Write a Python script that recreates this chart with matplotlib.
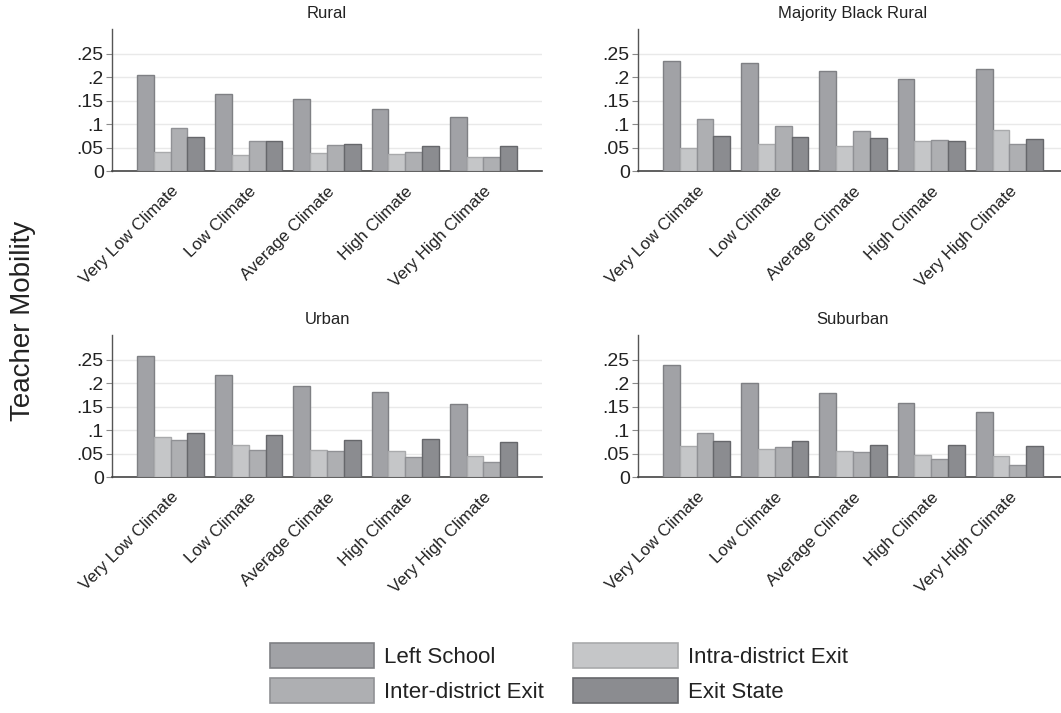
import matplotlib
matplotlib.use("Agg")
import matplotlib.pyplot as plt
from matplotlib.patches import Patch
from matplotlib.transforms import ScaledTranslation
import numpy as np

plt.rcParams['font.family'] = ['Liberation Sans', 'DejaVu Sans']

climates = ["Very Low Climate", "Low Climate", "Average Climate",
            "High Climate", "Very High Climate"]
series = ["Left School", "Intra-district Exit", "Inter-district Exit", "Exit State"]
panels = ["Rural", "Majority Black Rural", "Urban", "Suburban"]

# rows: climate level; columns follow `series`
rural = [[0.204, 0.041, 0.091, 0.072],
         [0.164, 0.035, 0.065, 0.063],
         [0.154, 0.039, 0.055, 0.058],
         [0.132, 0.037, 0.041, 0.054],
         [0.116, 0.030, 0.030, 0.054]]
black_rural = [[0.234, 0.050, 0.110, 0.075],
               [0.230, 0.058, 0.097, 0.073],
               [0.213, 0.054, 0.086, 0.071],
               [0.196, 0.064, 0.067, 0.063],
               [0.217, 0.087, 0.058, 0.069]]
urban = [[0.259, 0.085, 0.079, 0.093],
         [0.218, 0.068, 0.058, 0.090],
         [0.194, 0.058, 0.056, 0.079],
         [0.182, 0.055, 0.043, 0.082],
         [0.156, 0.045, 0.033, 0.075]]
suburban = [[0.239, 0.066, 0.094, 0.077],
            [0.201, 0.059, 0.064, 0.076],
            [0.180, 0.056, 0.054, 0.068],
            [0.158, 0.047, 0.039, 0.068],
            [0.139, 0.045, 0.025, 0.067]]
panel_data = [rural, black_rural, urban, suburban]

fills = ["#a1a2a6", "#c5c6c8", "#aeafb2", "#8b8c90"]
edges = ["#7f8084", "#a9aaac", "#909195", "#66676b"]

yticks = [0, 0.05, 0.1, 0.15, 0.2, 0.25]
ytick_labels = ["0", ".05", ".1", ".15", ".2", ".25"]

W, H = 1061, 713
fig = plt.figure(figsize=(W / 100, H / 100), dpi=100)

# pixel boxes: left, right, top, zero line
boxes = [(112, 542, 29, 171), (638, 1068, 29, 171),
         (112, 542, 335, 477), (638, 1068, 335, 477)]

bw = 0.215
x = np.arange(len(climates))
text_col = "#222222"
shift = ScaledTranslation(-4 / 100, 0, fig.dpi_scale_trans)

for name, vals, (l, r, t, b) in zip(panels, panel_data, boxes):
    ax = fig.add_axes([l / W, 1 - b / H, (r - l) / W, (b - t) / H])
    vals = np.array(vals)
    for j in range(len(series)):
        ax.bar(x + (j - 1.5) * bw, vals[:, j], width=bw,
               color=fills[j], edgecolor=edges[j], linewidth=1.0, zorder=3)
    ax.set_xlim(-0.75, 4.75)
    ax.set_ylim(0, 0.303)
    ax.set_yticks(yticks)
    ax.set_yticklabels(ytick_labels)
    ax.yaxis.grid(True, color="#e9e9e9", linewidth=1.0, zorder=0)
    ax.set_axisbelow(True)
    ax.tick_params(axis="y", length=4, width=0.8, color="#8a8a8a",
                   labelsize=14, labelcolor=text_col, pad=2)
    ax.set_xticks(x)
    ax.set_xticklabels(climates, rotation=45, ha="right", va="top",
                       rotation_mode="anchor", fontsize=12.2, color=text_col)
    for lab in ax.get_xticklabels():
        lab.set_transform(lab.get_transform() + shift)
    ax.tick_params(axis="x", length=0, pad=9)
    for s in ["top", "right"]:
        ax.spines[s].set_visible(False)
    ax.spines["left"].set_color("#555555")
    ax.spines["bottom"].set_color("#444444")
    ax.spines["left"].set_linewidth(1.0)
    ax.spines["bottom"].set_linewidth(1.2)
    ax.set_title(name, fontsize=12, color=text_col, pad=8)

fig.text(23 / W, 1 - 321 / H, "Teacher Mobility", rotation=90,
         ha="center", va="center", fontsize=20, color=text_col)

order = [0, 2, 1, 3]
handles = [Patch(facecolor=fills[i], edgecolor=edges[i], linewidth=1.2,
                 label=series[i]) for i in order]
fig.legend(handles=handles, ncol=2, loc="upper left",
           bbox_to_anchor=(270 / W, 1 - 643 / H), frameon=False,
           fontsize=16, handlelength=4.7, handleheight=1.35,
           handletextpad=0.45, labelspacing=0.45, columnspacing=1.3,
           borderpad=0, borderaxespad=0, labelcolor=text_col)

fig.savefig("out.png", dpi=100)
